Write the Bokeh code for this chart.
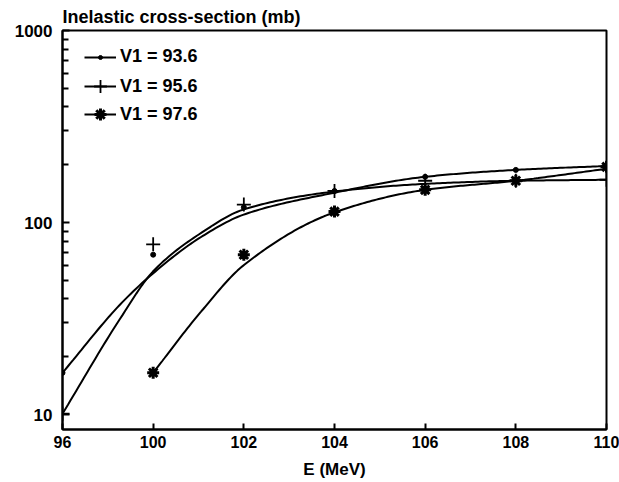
import numpy as np
from bokeh.plotting import figure
from bokeh.models import (FixedTicker, Range1d, Legend, LegendItem, BasicTickFormatter)
from bokeh.embed import file_html
from bokeh.resources import INLINE

# ---- data ----
E_LABELS = ["96", "100", "102", "104", "106", "108", "110"]   # tick labels (equally spaced on the axis)
Y_TICKS = [10, 100, 1000]
Y_MINOR = [20, 30, 40, 50, 60, 70, 80, 90, 200, 300, 400, 500, 600, 700, 800, 900]

# measured points
S1_E = ["96", "100", "102", "104", "106", "108", "110"]
S1_VALUES = [16.5, 68, 120, 146, 173, 188, 197]          # V1 = 93.6
S2_E = ["96", "100", "102", "104", "106", "108", "110"]
S2_VALUES = [10.1, 77, 124, 146, 165, 165, 167]           # V1 = 95.6
S3_E = ["100", "102", "104", "106", "108", "110"]
S3_VALUES = [16.5, 68, 114, 148, 165, 195]               # V1 = 97.6

# fitted curves (read at positions along the axis, in tick-step units)
C1_POS = [0, 0.64, 1, 1.52, 2, 3, 4, 5, 6]
C1_VALUES = [16.5, 37.6, 54.4, 83.6, 110, 143, 173, 188, 197]
C2_POS = [0, 0.64, 1, 1.52, 2, 3, 4, 5, 6]
C2_VALUES = [10.1, 31.8, 55.7, 87.7, 117, 145, 159, 165, 167]
C3_POS = [1, 1.52, 2, 3, 4, 5, 6]
C3_VALUES = [16.5, 34, 60, 113, 148, 165, 190.5]

LABELS = ["V1 = 93.6", "V1 = 95.6", "V1 = 97.6"]


def pchip(xs, ys, xq):
    xs = np.asarray(xs, float)
    ys = np.asarray(ys, float)
    h = np.diff(xs)
    d = np.diff(ys) / h
    n = len(xs)
    m = np.zeros(n)
    m[0], m[-1] = d[0], d[-1]
    for k in range(1, n - 1):
        if d[k - 1] * d[k] <= 0:
            m[k] = 0.0
        else:
            w1 = 2 * h[k] + h[k - 1]
            w2 = h[k] + 2 * h[k - 1]
            m[k] = (w1 + w2) / (w1 / d[k - 1] + w2 / d[k])
    out = np.empty_like(xq)
    for i, x in enumerate(xq):
        k = min(max(np.searchsorted(xs, x) - 1, 0), n - 2)
        t = (x - xs[k]) / h[k]
        h00 = 2 * t**3 - 3 * t**2 + 1
        h10 = t**3 - 2 * t**2 + t
        h01 = -2 * t**3 + 3 * t**2
        h11 = t**3 - t**2
        out[i] = h00 * ys[k] + h10 * h[k] * m[k] + h01 * ys[k + 1] + h11 * h[k] * m[k + 1]
    return out


def curve(pos, vals):
    xq = np.linspace(pos[0], pos[-1], 200)
    yq = 10 ** pchip(pos, np.log10(vals), xq)
    return xq, yq


def xpos(labels):
    return [E_LABELS.index(l) for l in labels]


FONT = "Liberation Sans"

p = figure(width=619, height=482, y_axis_type="log",
           x_range=Range1d(0, 6), y_range=Range1d(8.36, 1000),
           output_backend="svg", toolbar_location=None,
           min_border_left=62, min_border_right=13,
           min_border_top=28, min_border_bottom=53)

p.title.text = "Inelastic cross-section (mb)"
p.title.text_font = FONT
p.title.text_font_size = "18px"
p.title.text_font_style = "bold"
p.title.text_color = "black"
p.title.align = "left"
p.title.offset = 0
p.title.standoff = 8

p.xgrid.visible = False
p.ygrid.visible = False
p.outline_line_color = "black"
p.outline_line_width = 2
p.background_fill_color = "white"
p.border_fill_color = "white"

# x axis
p.xaxis.ticker = FixedTicker(ticks=list(range(len(E_LABELS))))
p.xaxis.major_label_overrides = {i: l for i, l in enumerate(E_LABELS)}
p.xaxis.axis_label = "E (MeV)"
p.xaxis.axis_label_text_font = FONT
p.xaxis.axis_label_text_font_size = "17px"
p.xaxis.axis_label_text_font_style = "bold"
p.xaxis.axis_label_text_color = "black"
p.xaxis.axis_label_standoff = 9
p.xaxis.major_label_text_font = FONT
p.xaxis.major_label_text_font_size = "16px"
p.xaxis.major_label_text_font_style = "bold"
p.xaxis.major_label_standoff = 6
p.xaxis.major_tick_in = 6
p.xaxis.major_tick_out = 0
p.xaxis.minor_tick_line_color = None

# y axis
p.yaxis.ticker = FixedTicker(ticks=Y_TICKS, minor_ticks=Y_MINOR)
p.yaxis.formatter = BasicTickFormatter()
p.yaxis.major_label_overrides = {t: str(t) for t in Y_TICKS}
p.yaxis.major_label_text_font = FONT
p.yaxis.major_label_text_font_size = "17px"
p.yaxis.major_label_text_font_style = "bold"
p.yaxis.major_label_standoff = 10
p.yaxis.major_tick_in = 7
p.yaxis.major_tick_out = 0
p.yaxis.minor_tick_in = 6
p.yaxis.minor_tick_out = 0

for ax in (p.xaxis, p.yaxis):
    ax.axis_line_width = 2
    ax.major_tick_line_width = 2
    ax.minor_tick_line_width = 2
    ax.axis_line_color = "black"
    ax.major_tick_line_color = "black"
    ax.major_label_text_color = "black"
p.yaxis.minor_tick_line_color = "black"

# curves
x1, y1 = curve(C1_POS, C1_VALUES)
x2, y2 = curve(C2_POS, C2_VALUES)
x3, y3 = curve(C3_POS, C3_VALUES)
l1 = p.line(x1, y1, line_color="black", line_width=2)
l2 = p.line(x2, y2, line_color="black", line_width=2)
l3 = p.line(x3, y3, line_color="black", line_width=2)

# points
m1 = p.scatter(xpos(S1_E), S1_VALUES, marker="circle", size=5,
               fill_color="black", line_color="black")
m2 = p.scatter(xpos(S2_E), S2_VALUES, marker="cross", size=14,
               line_color="black", line_width=1.8)
m3 = p.scatter(xpos(S3_E), S3_VALUES, marker="asterisk", size=12,
               line_color="black", line_width=3)

# one legend per entry so each legend marker gets its own size
legend_specs = [
    (LABELS[0], [l1, m1], 10, 362),
    (LABELS[1], [l2, m2], 32, 327),
    (LABELS[2], [l3, m3], 30, 300),
]
for lab, rends, gh, ybot in legend_specs:
    lg = Legend(items=[LegendItem(label=lab, renderers=rends)], location=(22, ybot))
    lg.border_line_color = None
    lg.background_fill_alpha = 0
    lg.label_text_font = FONT
    lg.label_text_font_size = "18px"
    lg.label_text_font_style = "bold"
    lg.label_text_color = "black"
    lg.glyph_width = 32
    lg.glyph_height = gh
    lg.label_height = gh
    lg.label_standoff = 4
    lg.margin = 0
    lg.padding = 0
    p.add_layout(lg)

open("out.html", "w").write(file_html(p, INLINE))
